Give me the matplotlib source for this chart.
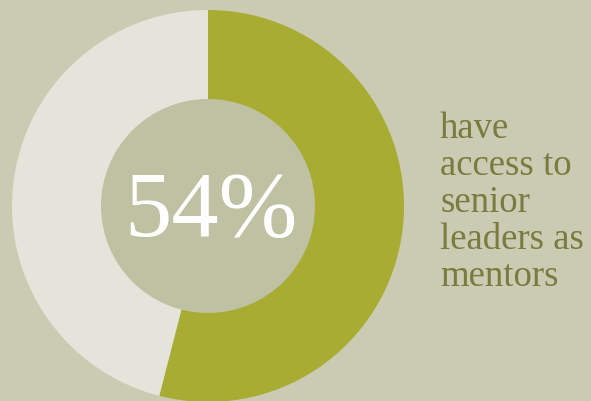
import matplotlib.pyplot as plt
from matplotlib.patches import Circle

# data
labels = ['Have access', 'Do not']
shares = [54, 46]
big_label = '54%'
caption = ['have', 'access to', 'senior', 'leaders as', 'mentors']

bg = '#CBCBB3'
olive = '#A9AC33'
light = '#E4E4DA'
hole = '#BFC1A3'
text_col = '#7A7B3F'

fig = plt.figure(figsize=(5.91, 4.01), dpi=100, facecolor=bg)
ax = fig.add_axes([0, 0, 1, 1])
ax.set_facecolor(bg)

cx, cy = 208, 401 - 206
ax.pie(shares, colors=[olive, light], startangle=90, counterclock=False,
       radius=196, center=(cx, cy), wedgeprops={'linewidth': 0})
ax.add_patch(Circle((cx, cy), 107, facecolor=hole, edgecolor='none', zorder=3))

ax.text(cx + 3, cy - 8, big_label, color='white', fontsize=68,
        family='Liberation Serif', ha='center', va='center', zorder=4)

y0 = 401 - 138
for i, line in enumerate(caption):
    ax.text(440, y0 - i * 37, line, color=text_col, fontsize=26.5,
            family='Liberation Serif', ha='left', va='baseline')

ax.set_xlim(0, 591)
ax.set_ylim(0, 401)
ax.set_aspect('equal')
ax.axis('off')

fig.savefig('out.png', dpi=100, facecolor=bg)
